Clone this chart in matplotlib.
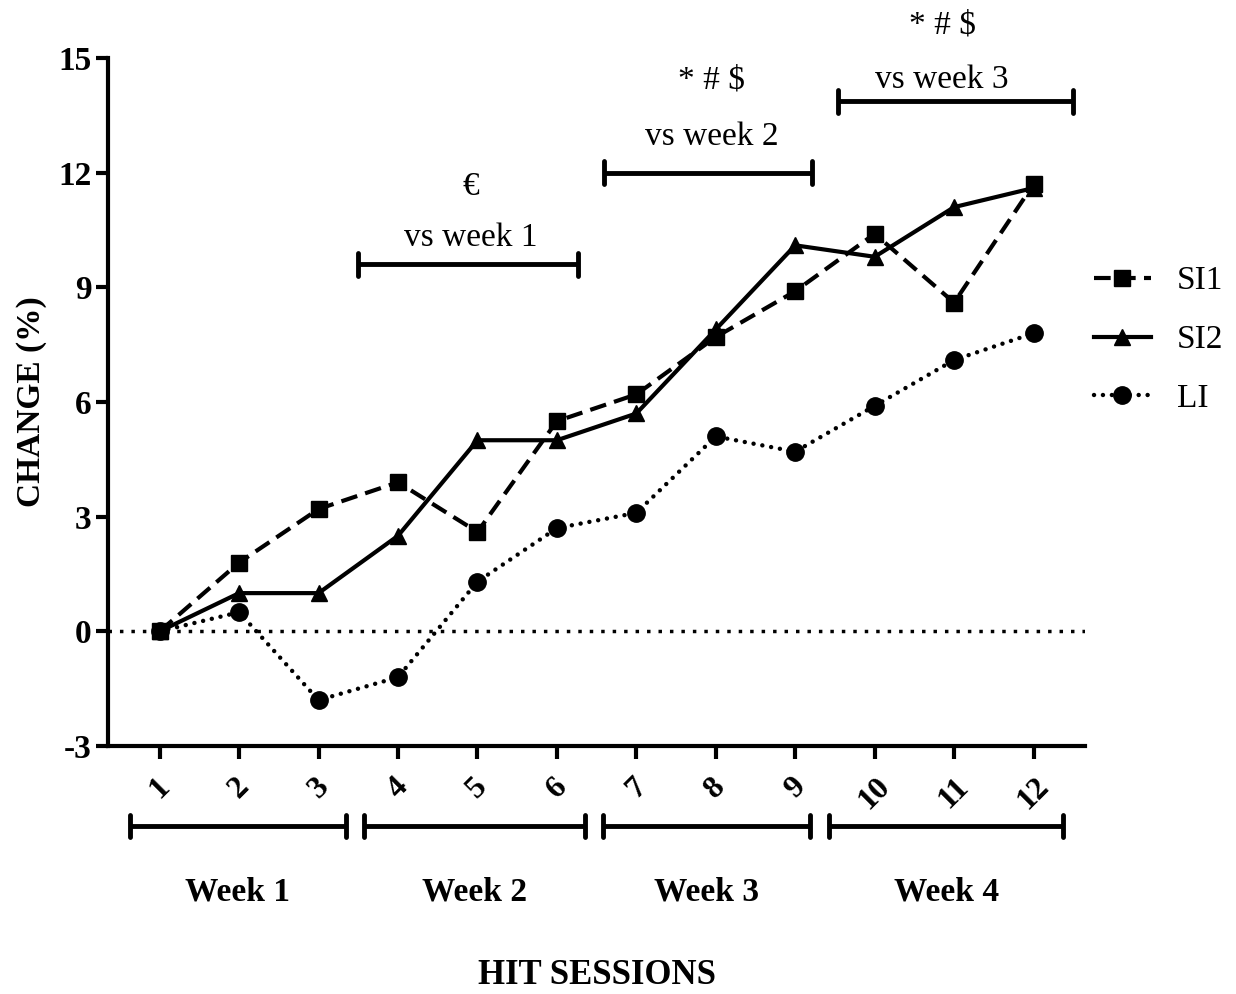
import numpy as np
import matplotlib
matplotlib.use('Agg')
import matplotlib.pyplot as plt

plt.rcParams['font.family'] = ['Liberation Serif', 'DejaVu Serif']
plt.rcParams['axes.unicode_minus'] = False

# Datele
sessions = np.arange(1, 13)
si1 = [0, 1.8, 3.2, 3.9, 2.6, 5.5, 6.2, 7.7, 8.9, 10.4, 8.6, 11.7]
si2 = [0, 1.0, 1.0, 2.5, 5.0, 5.0, 5.7, 7.9, 10.1, 9.8, 11.1, 11.6]
li = [0, 0.5, -1.8, -1.2, 1.3, 2.7, 3.1, 5.1, 4.7, 5.9, 7.1, 7.8]

week_labels = ['Week 1', 'Week 2', 'Week 3', 'Week 4']
week_spans = [(0.63, 3.34), (3.57, 6.35), (6.58, 9.19), (9.43, 12.37)]

# bare de comparatie (x1, x2, y)
comp_spans = [(3.5, 6.27, 9.6), (6.59, 9.21, 12.0), (9.54, 12.5, 13.87)]
comp_texts = ['vs week 1', 'vs week 2', 'vs week 3']
comp_symbols = ['€', '* # $', '* # $']
# pozitii text (x, y_text, y_simbol)
comp_text_pos = [(4.92, 10.3, 11.62), (7.95, 12.95, 14.42), (10.85, 14.42, 15.85)]

fig = plt.figure(figsize=(12.36, 9.94), dpi=100)
ax = fig.add_axes([0.0874, 0.2495, 0.7906, 0.6921])

ax.axhline(0, color='black', lw=2.5, linestyle=(0, (1, 2.3)), zorder=1)

ax.plot(sessions, si1, color='black', lw=3, dashes=(4, 2), marker='s', ms=11.5,
        label='SI1', zorder=3)
ax.plot(sessions, si2, color='black', lw=3, linestyle='-', marker='^', ms=12,
        label='SI2', zorder=3)
ax.plot(sessions, li, color='black', lw=3.2, linestyle=(0, (0.01, 2.0)),
        dash_capstyle='round', marker='o', ms=12.5, label='LI', zorder=3)

ax.set_xlim(0.35, 12.65)
ax.set_ylim(-3, 15)
ax.set_yticks([-3, 0, 3, 6, 9, 12, 15])
ax.set_xticks(sessions)
ax.set_xticklabels([str(s) for s in sessions], rotation=45, ha='center',
                   fontsize=23, fontweight='bold')
for lab in ax.get_yticklabels():
    lab.set_fontsize(24)
    lab.set_fontweight('bold')

for s in ['top', 'right']:
    ax.spines[s].set_visible(False)
for s in ['left', 'bottom']:
    ax.spines[s].set_linewidth(3)
ax.tick_params(direction='out', length=9, width=3, pad=3)
ax.tick_params(axis='x', pad=10)

ax.set_ylabel('CHANGE (%)', fontsize=24, fontweight='bold', labelpad=8)

# bare de comparatie sus
for (x1, x2, y), txt, sym, (xt, yt, ys) in zip(comp_spans, comp_texts,
                                                comp_symbols, comp_text_pos):
    ax.plot([x1, x2], [y, y], color='black', lw=3.5, clip_on=False,
            solid_capstyle='butt')
    for xx in (x1, x2):
        ax.plot([xx, xx], [y - 0.3, y + 0.3], color='black', lw=3.5,
                clip_on=False, solid_capstyle='round')
    ax.text(xt, yt, txt, ha='center', va='center', fontsize=24)
    ax.text(xt, ys, sym, ha='center', va='center', fontsize=24)

# bare saptamani jos
trans = ax.get_xaxis_transform()
for (x1, x2), lab in zip(week_spans, week_labels):
    ax.plot([x1, x2], [-0.116, -0.116], color='black', lw=3.5, clip_on=False,
            transform=trans, solid_capstyle='butt')
    for xx in (x1, x2):
        ax.plot([xx, xx], [-0.132, -0.100], color='black', lw=3.5,
                clip_on=False, transform=trans, solid_capstyle='round')
    ax.text((x1 + x2) / 2, -0.212, lab, ha='center', va='center', fontsize=24,
            fontweight='bold', transform=trans)

fig.text(0.483, 1 - 975 / 994, 'HIT SESSIONS', ha='center', va='center',
         fontsize=25, fontweight='bold')

ax.legend(loc='center left', bbox_to_anchor=(0.885, 0.658),
          bbox_transform=fig.transFigure, frameon=False, fontsize=24,
          handlelength=1.7, handletextpad=0.8, labelspacing=0.85,
          borderpad=0, borderaxespad=0)

fig.savefig('out.png', dpi=100)
